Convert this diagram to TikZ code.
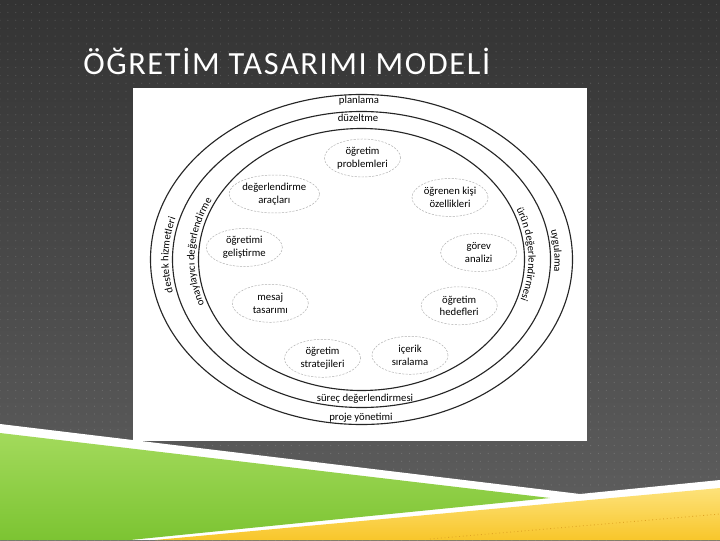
\documentclass[tikz,border=0pt]{standalone}
\usepackage{fontspec}
\setmainfont{Carlito}
\newfontfamily\titlefont[LetterSpace=5]{Carlito}
\usepackage{xcolor}
\usepackage{tikz}
\usetikzlibrary{shapes.geometric}
\usetikzlibrary{decorations.text}
\usetikzlibrary{patterns.meta}
\definecolor{bgtop}{HTML}{333333}
\definecolor{bgbottom}{HTML}{606060}
\definecolor{greentop}{HTML}{A3DA5C}
\definecolor{greenmid}{HTML}{CDEEA2}
\definecolor{greenbot}{HTML}{7CC432}
\definecolor{yellowtop}{HTML}{FDE27A}
\definecolor{yellowmid}{HTML}{F5BB10}
\definecolor{yellowbot}{HTML}{F8C62A}
\newcommand\ringfont{\fontsize{7.6}{9}\selectfont}
\tikzset{
  stage/.style={ellipse, draw=gray!60, dash pattern=on 1.5pt off 1pt, line width=0.35pt,
    minimum width=1.9cm, minimum height=0.95cm, inner sep=0pt, align=center, font=\ringfont},
  ring/.style={black!85, line width=0.8pt},
  ringtext/.style={font=\ringfont, anchor=base},
}
\begin{document}
\begin{tikzpicture}[x=0.025cm,y=0.025cm]
\useasboundingbox (0,0) rectangle (720,540);
%% slide background
\shade[top color=bgtop, bottom color=bgbottom] (0,0) rectangle (720,540);
\fill[pattern={Dots[distance=5.6pt,radius=0.45pt]}, pattern color=white, opacity=0.14] (0,0) rectangle (720,540);
\fill[white] (0,116) -- (580,46) -- (720,60) -- (720,0) -- (0,0) -- cycle;
\shade[top color=greentop, middle color=greenmid, bottom color=greenbot] (0,107) -- (550,42) -- (130,0) -- (0,0) -- cycle;
\shade[top color=yellowtop, middle color=yellowmid, bottom color=yellowbot] (155,0) -- (720,52) -- (720,0) -- cycle;
\draw[dotted, line width=0.6pt, color=yellowmid!60!brown] (430,1) -- (720,26);
\node[anchor=base west, inner sep=0pt, text=white, font=\titlefont\fontsize{23}{27}\selectfont] (title) at (83,465) {ÖĞRETİM TASARIMI MODELİ};
%% model
\fill[white] (133,99) rectangle (587,452);
\coordinate (C) at (361.5,280.5);
\draw[ring] (C) ellipse [x radius=211, y radius=165];
\draw[ring] (C) ellipse [x radius=189, y radius=148];
\draw[ring] (C) ellipse [x radius=163, y radius=131];
\node[ringtext] (plan) at (359,436.7) {planlama};
\node[ringtext] (duzelt) at (358,418) {düzeltme};
\node[ringtext] (surec) at (365,138.3) {süreç değerlendirmesi};
\node[ringtext] (proje) at (361,120) {proje yönetimi};
\path[decorate, decoration={text along path, text align=center, text={|\ringfont|destek hizmetleri}}]
  (C) ++(208:193 and 150) arc[start angle=208, end angle=149, x radius=193, y radius=150];
\path[decorate, decoration={text along path, text align=center, text={|\ringfont|onaylayıcı değerlendirme}}]
  (C) ++(222:167 and 133) arc[start angle=222, end angle=132, x radius=167, y radius=133];
\path[decorate, decoration={text along path, text align=center, text={|\ringfont|uygulama}}]
  (C) ++(35:193 and 150) arc[start angle=35, end angle=-29, x radius=193, y radius=150];
\path[decorate, decoration={text along path, text align=center, text={|\ringfont|ürün değerlendirmesi}}]
  (C) ++(47:167 and 133) arc[start angle=47, end angle=-43, x radius=167, y radius=133];
\foreach \n/\x/\y/\txt in {prob/362.5/382/{öğretim\\problemleri},
    arac/274.3/346/{değerlendirme\\araçları}, ozel/450/342.5/{öğrenen kişi\\özellikleri},
    gelis/244.3/292.5/{öğretimi\\geliştirme}, gorev/478.7/287.5/{görev\\analizi},
    mesaj/270.3/236.7/{mesaj\\tasarımı}, hedef/459.2/234.2/{öğretim\\hedefleri},
    strat/322.5/181.7/{öğretim\\stratejileri}, icerik/410/184.7/{içerik\\sıralama}}
  \node[stage] (\n) at (\x,\y) {\txt};
\end{tikzpicture}
\end{document}
